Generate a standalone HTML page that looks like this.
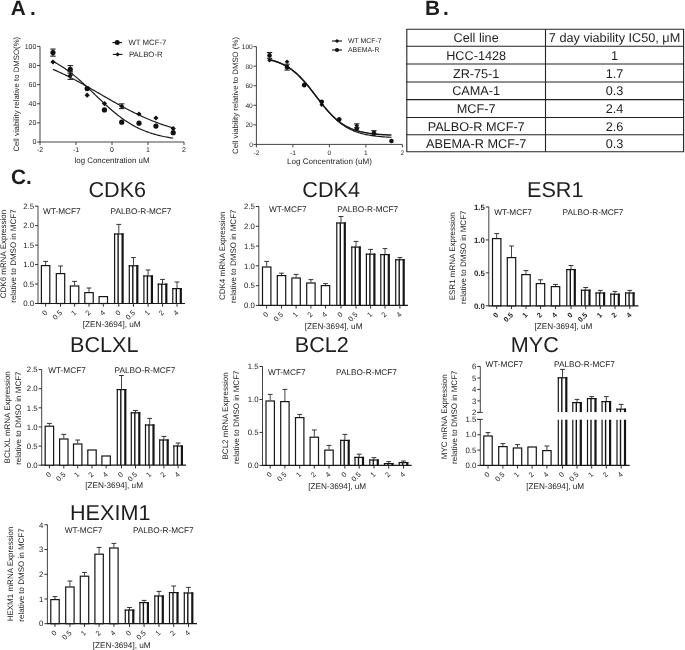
<!DOCTYPE html>
<html><head><meta charset="utf-8"><style>
html,body{margin:0;padding:0;background:#fff;width:685px;height:650px;overflow:hidden}
svg{display:block;will-change:transform}
text{font-family:"Liberation Sans",sans-serif;fill:#1e1e1e;text-rendering:geometricPrecision}
</style></head><body>
<svg width="685" height="650" viewBox="0 0 685 650">
<rect width="685" height="650" fill="#fff"/>
<text x="10.80" y="15.20" font-size="20.8" font-weight="bold">A</text>
<text x="30.00" y="15.20" font-size="20.8" font-weight="bold">.</text>
<text x="425.10" y="15.20" font-size="20.8" font-weight="bold">B</text>
<text x="443.00" y="15.20" font-size="20.8" font-weight="bold">.</text>
<text x="10.90" y="184.20" font-size="20.8" font-weight="bold">C</text>
<text x="26.10" y="184.40" font-size="20.8" font-weight="bold">.</text>
<line x1="40.00" y1="46.40" x2="40.00" y2="142.50" stroke="#444" stroke-width="1"/>
<line x1="39.50" y1="142.00" x2="184.00" y2="142.00" stroke="#444" stroke-width="1"/>
<line x1="37.00" y1="142.00" x2="40.00" y2="142.00" stroke="#444" stroke-width="1"/>
<text x="36.40" y="144.40" font-size="7.0" text-anchor="end">0</text>
<line x1="37.00" y1="122.88" x2="40.00" y2="122.88" stroke="#444" stroke-width="1"/>
<text x="36.40" y="125.28" font-size="7.0" text-anchor="end">20</text>
<line x1="37.00" y1="103.76" x2="40.00" y2="103.76" stroke="#444" stroke-width="1"/>
<text x="36.40" y="106.16" font-size="7.0" text-anchor="end">40</text>
<line x1="37.00" y1="84.64" x2="40.00" y2="84.64" stroke="#444" stroke-width="1"/>
<text x="36.40" y="87.04" font-size="7.0" text-anchor="end">60</text>
<line x1="37.00" y1="65.52" x2="40.00" y2="65.52" stroke="#444" stroke-width="1"/>
<text x="36.40" y="67.92" font-size="7.0" text-anchor="end">80</text>
<line x1="37.00" y1="46.40" x2="40.00" y2="46.40" stroke="#444" stroke-width="1"/>
<text x="36.40" y="48.80" font-size="7.0" text-anchor="end">100</text>
<line x1="40.00" y1="142.00" x2="40.00" y2="145.00" stroke="#444" stroke-width="1"/>
<text x="40.00" y="152.20" font-size="7.0" text-anchor="middle">-2</text>
<line x1="76.00" y1="142.00" x2="76.00" y2="145.00" stroke="#444" stroke-width="1"/>
<text x="76.00" y="152.20" font-size="7.0" text-anchor="middle">-1</text>
<line x1="112.00" y1="142.00" x2="112.00" y2="145.00" stroke="#444" stroke-width="1"/>
<text x="112.00" y="152.20" font-size="7.0" text-anchor="middle">0</text>
<line x1="148.00" y1="142.00" x2="148.00" y2="145.00" stroke="#444" stroke-width="1"/>
<text x="148.00" y="152.20" font-size="7.0" text-anchor="middle">1</text>
<line x1="184.00" y1="142.00" x2="184.00" y2="145.00" stroke="#444" stroke-width="1"/>
<text x="184.00" y="152.20" font-size="7.0" text-anchor="middle">2</text>
<path d="M52.96,61.36L54.16,61.98L55.36,62.63L56.57,63.29L57.77,63.98L58.97,64.69L60.17,65.42L61.38,66.17L62.58,66.95L63.78,67.74L64.98,68.56L66.19,69.40L67.39,70.26L68.59,71.14L69.79,72.05L71.00,72.97L72.20,73.92L73.40,74.88L74.60,75.86L75.81,76.86L77.01,77.88L78.21,78.92L79.41,79.97L80.62,81.04L81.82,82.12L83.02,83.22L84.22,84.33L85.42,85.44L86.63,86.57L87.83,87.71L89.03,88.86L90.23,90.01L91.44,91.17L92.64,92.33L93.84,93.49L95.04,94.65L96.25,95.82L97.45,96.98L98.65,98.13L99.85,99.29L101.06,100.43L102.26,101.57L103.46,102.71L104.66,103.83L105.87,104.94L107.07,106.04L108.27,107.12L109.47,108.19L110.68,109.25L111.88,110.29L113.08,111.31L114.28,112.32L115.48,113.30L116.69,114.27L117.89,115.22L119.09,116.15L120.29,117.06L121.50,117.94L122.70,118.81L123.90,119.65L125.10,120.48L126.31,121.28L127.51,122.06L128.71,122.81L129.91,123.55L131.12,124.26L132.32,124.96L133.52,125.63L134.72,126.28L135.93,126.91L137.13,127.52L138.33,128.10L139.53,128.67L140.74,129.22L141.94,129.75L143.14,130.26L144.34,130.75L145.54,131.23L146.75,131.68L147.95,132.12L149.15,132.55L150.35,132.95L151.56,133.34L152.76,133.72L153.96,134.08L155.16,134.43L156.37,134.76L157.57,135.08L158.77,135.38L159.97,135.68L161.18,135.96L162.38,136.23L163.58,136.49L164.78,136.74L165.99,136.97L167.19,137.20L168.39,137.42L169.59,137.62L170.80,137.82L172.00,138.01L173.20,138.20" stroke="#1a1a1a" stroke-width="1.2" fill="none"/>
<path d="M52.96,69.36L54.16,69.87L55.36,70.39L56.57,70.92L57.77,71.45L58.97,71.99L60.17,72.54L61.38,73.10L62.58,73.67L63.78,74.24L64.98,74.82L66.19,75.40L67.39,75.99L68.59,76.59L69.79,77.20L71.00,77.81L72.20,78.43L73.40,79.05L74.60,79.68L75.81,80.32L77.01,80.96L78.21,81.60L79.41,82.25L80.62,82.91L81.82,83.57L83.02,84.23L84.22,84.90L85.42,85.57L86.63,86.25L87.83,86.93L89.03,87.61L90.23,88.29L91.44,88.98L92.64,89.67L93.84,90.36L95.04,91.06L96.25,91.75L97.45,92.44L98.65,93.14L99.85,93.84L101.06,94.53L102.26,95.23L103.46,95.93L104.66,96.62L105.87,97.32L107.07,98.01L108.27,98.70L109.47,99.39L110.68,100.08L111.88,100.76L113.08,101.44L114.28,102.12L115.48,102.80L116.69,103.47L117.89,104.14L119.09,104.80L120.29,105.46L121.50,106.12L122.70,106.77L123.90,107.42L125.10,108.06L126.31,108.69L127.51,109.32L128.71,109.95L129.91,110.56L131.12,111.18L132.32,111.78L133.52,112.38L134.72,112.97L135.93,113.56L137.13,114.14L138.33,114.71L139.53,115.27L140.74,115.83L141.94,116.38L143.14,116.93L144.34,117.46L145.54,117.99L146.75,118.51L147.95,119.02L149.15,119.53L150.35,120.02L151.56,120.51L152.76,120.99L153.96,121.47L155.16,121.93L156.37,122.39L157.57,122.84L158.77,123.29L159.97,123.72L161.18,124.15L162.38,124.57L163.58,124.98L164.78,125.38L165.99,125.78L167.19,126.17L168.39,126.55L169.59,126.92L170.80,127.29L172.00,127.65L173.20,128.00" stroke="#1a1a1a" stroke-width="1.2" fill="none"/>
<line x1="52.96" y1="49.08" x2="52.96" y2="56.15" stroke="#222" stroke-width="1.1"/>
<line x1="50.26" y1="49.08" x2="55.66" y2="49.08" stroke="#222" stroke-width="1.1"/>
<line x1="50.26" y1="56.15" x2="55.66" y2="56.15" stroke="#222" stroke-width="1.1"/>
<circle cx="52.96" cy="52.61" r="2.6" fill="#111"/>
<line x1="70.24" y1="65.52" x2="70.24" y2="73.17" stroke="#222" stroke-width="1.1"/>
<line x1="67.54" y1="65.52" x2="72.94" y2="65.52" stroke="#222" stroke-width="1.1"/>
<line x1="67.54" y1="73.17" x2="72.94" y2="73.17" stroke="#222" stroke-width="1.1"/>
<circle cx="70.24" cy="69.34" r="2.6" fill="#111"/>
<circle cx="87.16" cy="88.56" r="2.6" fill="#111"/>
<circle cx="104.44" cy="109.97" r="2.6" fill="#111"/>
<circle cx="121.72" cy="122.21" r="2.6" fill="#111"/>
<circle cx="139.00" cy="123.17" r="2.6" fill="#111"/>
<circle cx="155.92" cy="126.03" r="2.6" fill="#111"/>
<circle cx="173.20" cy="132.63" r="2.6" fill="#111"/>
<path d="M52.96,59.38L55.56,61.98L52.96,64.58L50.36,61.98Z" fill="#111"/>
<line x1="70.24" y1="71.73" x2="70.24" y2="79.38" stroke="#222" stroke-width="1.1"/>
<line x1="67.54" y1="71.73" x2="72.94" y2="71.73" stroke="#222" stroke-width="1.1"/>
<line x1="67.54" y1="79.38" x2="72.94" y2="79.38" stroke="#222" stroke-width="1.1"/>
<path d="M70.24,72.96L72.84,75.56L70.24,78.16L67.64,75.56Z" fill="#111"/>
<path d="M87.16,92.56L89.76,95.16L87.16,97.76L84.56,95.16Z" fill="#111"/>
<path d="M104.44,100.97L107.04,103.57L104.44,106.17L101.84,103.57Z" fill="#111"/>
<line x1="121.72" y1="103.86" x2="121.72" y2="108.64" stroke="#222" stroke-width="1.1"/>
<line x1="119.02" y1="103.86" x2="124.42" y2="103.86" stroke="#222" stroke-width="1.1"/>
<line x1="119.02" y1="108.64" x2="124.42" y2="108.64" stroke="#222" stroke-width="1.1"/>
<path d="M121.72,103.65L124.32,106.25L121.72,108.85L119.12,106.25Z" fill="#111"/>
<path d="M139.00,111.39L141.60,113.99L139.00,116.59L136.40,113.99Z" fill="#111"/>
<path d="M155.92,115.40L158.52,118.00L155.92,120.60L153.32,118.00Z" fill="#111"/>
<path d="M173.20,126.02L175.80,128.62L173.20,131.22L170.60,128.62Z" fill="#111"/>
<text x="19.30" y="94.20" font-size="7.8" text-anchor="middle" transform="rotate(-90 19.30 94.20)">Cell viability relative to DMSO(%)</text>
<text x="112.00" y="162.50" font-size="7.9" text-anchor="middle">log Concentration uM</text>
<line x1="112.40" y1="42.60" x2="122.00" y2="42.60" stroke="#111" stroke-width="1.1"/>
<circle cx="117.2" cy="42.6" r="2.5" fill="#111"/>
<text x="128.40" y="45.40" font-size="7.8">WT MCF-7</text>
<line x1="112.80" y1="54.40" x2="122.40" y2="54.40" stroke="#111" stroke-width="1.1"/>
<path d="M117.6,52.2L119.8,54.4L117.6,56.6L115.4,54.4Z" fill="#111"/>
<text x="129.00" y="57.20" font-size="7.8">PALBO-R</text>
<line x1="256.40" y1="46.60" x2="256.40" y2="144.90" stroke="#444" stroke-width="1"/>
<line x1="255.90" y1="144.40" x2="402.40" y2="144.40" stroke="#444" stroke-width="1"/>
<line x1="253.40" y1="144.40" x2="256.40" y2="144.40" stroke="#444" stroke-width="1"/>
<text x="252.80" y="146.80" font-size="6.6" text-anchor="end">0</text>
<line x1="253.40" y1="124.84" x2="256.40" y2="124.84" stroke="#444" stroke-width="1"/>
<text x="252.80" y="127.24" font-size="6.6" text-anchor="end">20</text>
<line x1="253.40" y1="105.28" x2="256.40" y2="105.28" stroke="#444" stroke-width="1"/>
<text x="252.80" y="107.68" font-size="6.6" text-anchor="end">40</text>
<line x1="253.40" y1="85.72" x2="256.40" y2="85.72" stroke="#444" stroke-width="1"/>
<text x="252.80" y="88.12" font-size="6.6" text-anchor="end">60</text>
<line x1="253.40" y1="66.16" x2="256.40" y2="66.16" stroke="#444" stroke-width="1"/>
<text x="252.80" y="68.56" font-size="6.6" text-anchor="end">80</text>
<line x1="253.40" y1="46.60" x2="256.40" y2="46.60" stroke="#444" stroke-width="1"/>
<text x="252.80" y="49.00" font-size="6.6" text-anchor="end">100</text>
<line x1="256.40" y1="144.40" x2="256.40" y2="147.40" stroke="#444" stroke-width="1"/>
<text x="256.40" y="154.60" font-size="6.6" text-anchor="middle">-2</text>
<line x1="292.90" y1="144.40" x2="292.90" y2="147.40" stroke="#444" stroke-width="1"/>
<text x="292.90" y="154.60" font-size="6.6" text-anchor="middle">-1</text>
<line x1="329.40" y1="144.40" x2="329.40" y2="147.40" stroke="#444" stroke-width="1"/>
<text x="329.40" y="154.60" font-size="6.6" text-anchor="middle">0</text>
<line x1="365.90" y1="144.40" x2="365.90" y2="147.40" stroke="#444" stroke-width="1"/>
<text x="365.90" y="154.60" font-size="6.6" text-anchor="middle">1</text>
<line x1="402.40" y1="144.40" x2="402.40" y2="147.40" stroke="#444" stroke-width="1"/>
<text x="402.40" y="154.60" font-size="6.6" text-anchor="middle">2</text>
<path d="M269.54,59.89L270.76,60.17L271.98,60.48L273.20,60.80L274.42,61.15L275.64,61.53L276.85,61.93L278.07,62.36L279.29,62.82L280.51,63.32L281.73,63.85L282.95,64.41L284.17,65.01L285.39,65.65L286.61,66.33L287.83,67.06L289.05,67.83L290.26,68.64L291.48,69.50L292.70,70.41L293.92,71.37L295.14,72.37L296.36,73.43L297.58,74.53L298.80,75.69L300.02,76.89L301.24,78.14L302.46,79.44L303.67,80.78L304.89,82.16L306.11,83.59L307.33,85.05L308.55,86.54L309.77,88.06L310.99,89.61L312.21,91.18L313.43,92.76L314.65,94.35L315.87,95.95L317.08,97.55L318.30,99.14L319.52,100.73L320.74,102.29L321.96,103.84L323.18,105.36L324.40,106.86L325.62,108.32L326.84,109.75L328.06,111.13L329.28,112.48L330.50,113.78L331.71,115.03L332.93,116.24L334.15,117.39L335.37,118.50L336.59,119.56L337.81,120.57L339.03,121.52L340.25,122.44L341.47,123.30L342.69,124.11L343.91,124.88L345.12,125.61L346.34,126.29L347.56,126.94L348.78,127.54L350.00,128.11L351.22,128.64L352.44,129.13L353.66,129.60L354.88,130.03L356.10,130.43L357.32,130.81L358.53,131.16L359.75,131.49L360.97,131.79L362.19,132.07L363.41,132.33L364.63,132.58L365.85,132.80L367.07,133.01L368.29,133.21L369.51,133.39L370.73,133.56L371.94,133.71L373.16,133.85L374.38,133.99L375.60,134.11L376.82,134.22L378.04,134.33L379.26,134.42L380.48,134.51L381.70,134.60L382.92,134.67L384.14,134.74L385.35,134.81L386.57,134.87L387.79,134.93L389.01,134.98L390.23,135.03L391.45,135.07" stroke="#1a1a1a" stroke-width="1.5" fill="none"/>
<path d="M269.54,59.48L270.76,59.79L271.98,60.12L273.20,60.47L274.42,60.85L275.64,61.25L276.85,61.69L278.07,62.15L279.29,62.64L280.51,63.16L281.73,63.72L282.95,64.32L284.17,64.95L285.39,65.61L286.61,66.32L287.83,67.07L289.05,67.86L290.26,68.70L291.48,69.58L292.70,70.51L293.92,71.48L295.14,72.50L296.36,73.57L297.58,74.68L298.80,75.84L300.02,77.04L301.24,78.30L302.46,79.59L303.67,80.93L304.89,82.30L306.11,83.72L307.33,85.16L308.55,86.64L309.77,88.15L310.99,89.68L312.21,91.24L313.43,92.80L314.65,94.38L315.87,95.97L317.08,97.56L318.30,99.15L319.52,100.72L320.74,102.29L321.96,103.84L323.18,105.37L324.40,106.88L325.62,108.36L326.84,109.81L328.06,111.22L329.28,112.59L330.50,113.93L331.71,115.22L332.93,116.47L334.15,117.67L335.37,118.83L336.59,119.94L337.81,121.00L339.03,122.02L340.25,122.99L341.47,123.91L342.69,124.79L343.91,125.62L345.12,126.41L346.34,127.16L347.56,127.87L348.78,128.53L350.00,129.16L351.22,129.75L352.44,130.31L353.66,130.83L354.88,131.32L356.10,131.78L357.32,132.21L358.53,132.62L359.75,132.99L360.97,133.35L362.19,133.68L363.41,133.98L364.63,134.27L365.85,134.54L367.07,134.79L368.29,135.02L369.51,135.24L370.73,135.44L371.94,135.62L373.16,135.80L374.38,135.96L375.60,136.11L376.82,136.25L378.04,136.38L379.26,136.50L380.48,136.61L381.70,136.72L382.92,136.81L384.14,136.90L385.35,136.99L386.57,137.06L387.79,137.14L389.01,137.20L390.23,137.26L391.45,137.32" stroke="#1a1a1a" stroke-width="1.2" fill="none"/>
<path d="M269.54,57.99L271.84,60.29L269.54,62.59L267.24,60.29Z" fill="#111"/>
<line x1="269.54" y1="52.47" x2="269.54" y2="58.34" stroke="#222" stroke-width="1.1"/>
<line x1="266.84" y1="52.47" x2="272.24" y2="52.47" stroke="#222" stroke-width="1.1"/>
<line x1="266.84" y1="58.34" x2="272.24" y2="58.34" stroke="#222" stroke-width="1.1"/>
<circle cx="269.54" cy="55.40" r="2.3" fill="#111"/>
<path d="M287.06,59.46L289.36,61.76L287.06,64.06L284.76,61.76Z" fill="#111"/>
<line x1="287.06" y1="64.20" x2="287.06" y2="70.07" stroke="#222" stroke-width="1.1"/>
<line x1="284.36" y1="64.20" x2="289.76" y2="64.20" stroke="#222" stroke-width="1.1"/>
<line x1="284.36" y1="70.07" x2="289.76" y2="70.07" stroke="#222" stroke-width="1.1"/>
<circle cx="287.06" cy="67.14" r="2.3" fill="#111"/>
<circle cx="304.21" cy="85.23" r="2.3" fill="#111"/>
<path d="M304.21,81.95L306.51,84.25L304.21,86.55L301.91,84.25Z" fill="#111"/>
<circle cx="321.74" cy="101.86" r="2.3" fill="#111"/>
<path d="M321.74,102.49L324.04,104.79L321.74,107.09L319.44,104.79Z" fill="#111"/>
<circle cx="339.25" cy="119.46" r="2.3" fill="#111"/>
<path d="M339.25,116.67L341.56,118.97L339.25,121.27L336.95,118.97Z" fill="#111"/>
<circle cx="356.77" cy="128.75" r="2.3" fill="#111"/>
<line x1="356.77" y1="123.86" x2="356.77" y2="127.77" stroke="#222" stroke-width="1.1"/>
<line x1="354.07" y1="123.86" x2="359.47" y2="123.86" stroke="#222" stroke-width="1.1"/>
<line x1="354.07" y1="127.77" x2="359.47" y2="127.77" stroke="#222" stroke-width="1.1"/>
<path d="M356.77,123.52L359.07,125.82L356.77,128.12L354.47,125.82Z" fill="#111"/>
<circle cx="373.93" cy="133.64" r="2.3" fill="#111"/>
<line x1="373.93" y1="130.71" x2="373.93" y2="133.64" stroke="#222" stroke-width="1.1"/>
<line x1="371.23" y1="130.71" x2="376.63" y2="130.71" stroke="#222" stroke-width="1.1"/>
<line x1="371.23" y1="133.64" x2="376.63" y2="133.64" stroke="#222" stroke-width="1.1"/>
<path d="M373.93,129.88L376.23,132.18L373.93,134.48L371.63,132.18Z" fill="#111"/>
<circle cx="391.45" cy="140.98" r="2.3" fill="#111"/>
<text x="237.50" y="95.50" font-size="7.8" text-anchor="middle" transform="rotate(-90 237.50 95.50)">Cell viability relative to DMSO (%)</text>
<text x="329.40" y="163.90" font-size="8.1" text-anchor="middle">Log Concentration (uM)</text>
<line x1="332.00" y1="41.00" x2="342.00" y2="41.00" stroke="#111" stroke-width="1.1"/>
<path d="M337,38.9L339.1,41L337,43.1L334.9,41Z" fill="#111"/>
<text x="348.00" y="43.40" font-size="6.9">WT MCF-7</text>
<line x1="332.00" y1="50.00" x2="342.00" y2="50.00" stroke="#111" stroke-width="1.1"/>
<circle cx="337" cy="50" r="2.1" fill="#111"/>
<text x="348.00" y="52.40" font-size="6.9">ABEMA-R</text>
<line x1="406.30" y1="29.20" x2="684.10" y2="29.20" stroke="#222" stroke-width="1.1"/>
<line x1="406.30" y1="46.20" x2="684.10" y2="46.20" stroke="#222" stroke-width="1.1"/>
<line x1="406.30" y1="64.00" x2="684.10" y2="64.00" stroke="#222" stroke-width="1.1"/>
<line x1="406.30" y1="82.00" x2="684.10" y2="82.00" stroke="#222" stroke-width="1.1"/>
<line x1="406.30" y1="99.60" x2="684.10" y2="99.60" stroke="#222" stroke-width="1.1"/>
<line x1="406.30" y1="117.50" x2="684.10" y2="117.50" stroke="#222" stroke-width="1.1"/>
<line x1="406.30" y1="134.80" x2="684.10" y2="134.80" stroke="#222" stroke-width="1.1"/>
<line x1="406.30" y1="151.80" x2="684.10" y2="151.80" stroke="#222" stroke-width="1.1"/>
<line x1="406.80" y1="29.20" x2="406.80" y2="151.80" stroke="#222" stroke-width="1.1"/>
<line x1="545.50" y1="29.20" x2="545.50" y2="151.80" stroke="#222" stroke-width="1.1"/>
<line x1="683.60" y1="29.20" x2="683.60" y2="151.80" stroke="#222" stroke-width="1.1"/>
<text x="476.15" y="42.20" font-size="12.7" text-anchor="middle">Cell line</text>
<text x="614.55" y="42.20" font-size="12.7" text-anchor="middle">7 day viability IC50, μM</text>
<text x="476.15" y="59.60" font-size="12.7" text-anchor="middle">HCC-1428</text>
<text x="614.55" y="59.60" font-size="12.7" text-anchor="middle">1</text>
<text x="476.15" y="77.50" font-size="12.7" text-anchor="middle">ZR-75-1</text>
<text x="614.55" y="77.50" font-size="12.7" text-anchor="middle">1.7</text>
<text x="476.15" y="95.30" font-size="12.7" text-anchor="middle">CAMA-1</text>
<text x="614.55" y="95.30" font-size="12.7" text-anchor="middle">0.3</text>
<text x="476.15" y="113.05" font-size="12.7" text-anchor="middle">MCF-7</text>
<text x="614.55" y="113.05" font-size="12.7" text-anchor="middle">2.4</text>
<text x="476.15" y="130.65" font-size="12.7" text-anchor="middle">PALBO-R MCF-7</text>
<text x="614.55" y="130.65" font-size="12.7" text-anchor="middle">2.6</text>
<text x="476.15" y="147.80" font-size="12.7" text-anchor="middle">ABEMA-R MCF-7</text>
<text x="614.55" y="147.80" font-size="12.7" text-anchor="middle">0.3</text>
<text x="88.50" y="196.80" font-size="21.6">CDK6</text>
<line x1="38.00" y1="205.90" x2="38.00" y2="303.50" stroke="#444" stroke-width="1"/>
<line x1="37.50" y1="303.50" x2="185.00" y2="303.50" stroke="#1a1a1a" stroke-width="1.2"/>
<line x1="35.00" y1="303.50" x2="38.00" y2="303.50" stroke="#333" stroke-width="1"/>
<text x="34.00" y="306.20" font-size="7.8" text-anchor="end">0.0</text>
<line x1="35.00" y1="284.04" x2="38.00" y2="284.04" stroke="#333" stroke-width="1"/>
<text x="34.00" y="286.74" font-size="7.8" text-anchor="end">0.5</text>
<line x1="35.00" y1="264.58" x2="38.00" y2="264.58" stroke="#333" stroke-width="1"/>
<text x="34.00" y="267.28" font-size="7.8" text-anchor="end">1.0</text>
<line x1="35.00" y1="245.12" x2="38.00" y2="245.12" stroke="#333" stroke-width="1"/>
<text x="34.00" y="247.82" font-size="7.8" text-anchor="end">1.5</text>
<line x1="35.00" y1="225.66" x2="38.00" y2="225.66" stroke="#333" stroke-width="1"/>
<text x="34.00" y="228.36" font-size="7.8" text-anchor="end">2.0</text>
<line x1="35.00" y1="206.20" x2="38.00" y2="206.20" stroke="#333" stroke-width="1"/>
<text x="34.00" y="208.90" font-size="7.8" text-anchor="end">2.5</text>
<line x1="45.60" y1="303.50" x2="45.60" y2="306.70" stroke="#333" stroke-width="1"/>
<text x="47.80" y="313.10" font-size="7.2" text-anchor="end" transform="rotate(-45 47.80 313.10)">0</text>
<line x1="45.60" y1="261.40" x2="45.60" y2="265.00" stroke="#444" stroke-width="1"/>
<line x1="43.20" y1="261.40" x2="48.00" y2="261.40" stroke="#333" stroke-width="1"/>
<rect x="41.40" y="265.60" width="8.40" height="37.90" fill="#fff" stroke="#151515" stroke-width="1.2"/>
<line x1="60.50" y1="303.50" x2="60.50" y2="306.70" stroke="#333" stroke-width="1"/>
<text x="62.70" y="313.10" font-size="7.2" text-anchor="end" transform="rotate(-45 62.70 313.10)">0.5</text>
<line x1="60.50" y1="266.00" x2="60.50" y2="273.00" stroke="#444" stroke-width="1"/>
<line x1="58.10" y1="266.00" x2="62.90" y2="266.00" stroke="#333" stroke-width="1"/>
<rect x="56.30" y="273.60" width="8.40" height="29.90" fill="#fff" stroke="#151515" stroke-width="1.2"/>
<line x1="74.60" y1="303.50" x2="74.60" y2="306.70" stroke="#333" stroke-width="1"/>
<text x="76.80" y="313.10" font-size="7.2" text-anchor="end" transform="rotate(-45 76.80 313.10)">1</text>
<line x1="74.60" y1="281.40" x2="74.60" y2="285.40" stroke="#444" stroke-width="1"/>
<line x1="72.20" y1="281.40" x2="77.00" y2="281.40" stroke="#333" stroke-width="1"/>
<rect x="70.40" y="286.00" width="8.40" height="17.50" fill="#fff" stroke="#151515" stroke-width="1.2"/>
<line x1="89.00" y1="303.50" x2="89.00" y2="306.70" stroke="#333" stroke-width="1"/>
<text x="91.20" y="313.10" font-size="7.2" text-anchor="end" transform="rotate(-45 91.20 313.10)">2</text>
<line x1="89.00" y1="288.00" x2="89.00" y2="292.00" stroke="#444" stroke-width="1"/>
<line x1="86.60" y1="288.00" x2="91.40" y2="288.00" stroke="#333" stroke-width="1"/>
<rect x="84.80" y="292.60" width="8.40" height="10.90" fill="#fff" stroke="#151515" stroke-width="1.2"/>
<line x1="103.30" y1="303.50" x2="103.30" y2="306.70" stroke="#333" stroke-width="1"/>
<text x="105.50" y="313.10" font-size="7.2" text-anchor="end" transform="rotate(-45 105.50 313.10)">4</text>
<rect x="99.10" y="296.60" width="8.40" height="6.90" fill="#fff" stroke="#151515" stroke-width="1.2"/>
<line x1="118.80" y1="303.50" x2="118.80" y2="306.70" stroke="#333" stroke-width="1"/>
<text x="121.00" y="313.10" font-size="7.2" text-anchor="end" transform="rotate(-45 121.00 313.10)">0</text>
<line x1="118.80" y1="224.40" x2="118.80" y2="233.40" stroke="#444" stroke-width="1"/>
<line x1="116.40" y1="224.40" x2="121.20" y2="224.40" stroke="#333" stroke-width="1"/>
<line x1="114.60" y1="233.40" x2="114.60" y2="303.50" stroke="#151515" stroke-width="1.2"/>
<line x1="118.10" y1="233.40" x2="118.10" y2="303.50" stroke="#151515" stroke-width="1.4"/>
<line x1="122.60" y1="233.40" x2="122.60" y2="303.50" stroke="#151515" stroke-width="2.2"/>
<line x1="114.00" y1="234.00" x2="123.60" y2="234.00" stroke="#151515" stroke-width="1.2"/>
<line x1="133.50" y1="303.50" x2="133.50" y2="306.70" stroke="#333" stroke-width="1"/>
<text x="135.70" y="313.10" font-size="7.2" text-anchor="end" transform="rotate(-45 135.70 313.10)">0.5</text>
<line x1="133.50" y1="257.60" x2="133.50" y2="265.20" stroke="#444" stroke-width="1"/>
<line x1="131.10" y1="257.60" x2="135.90" y2="257.60" stroke="#333" stroke-width="1"/>
<line x1="129.30" y1="265.20" x2="129.30" y2="303.50" stroke="#151515" stroke-width="1.2"/>
<line x1="132.80" y1="265.20" x2="132.80" y2="303.50" stroke="#151515" stroke-width="1.4"/>
<line x1="137.30" y1="265.20" x2="137.30" y2="303.50" stroke="#151515" stroke-width="2.2"/>
<line x1="128.70" y1="265.80" x2="138.30" y2="265.80" stroke="#151515" stroke-width="1.2"/>
<line x1="148.10" y1="303.50" x2="148.10" y2="306.70" stroke="#333" stroke-width="1"/>
<text x="150.30" y="313.10" font-size="7.2" text-anchor="end" transform="rotate(-45 150.30 313.10)">1</text>
<line x1="148.10" y1="270.00" x2="148.10" y2="275.40" stroke="#444" stroke-width="1"/>
<line x1="145.70" y1="270.00" x2="150.50" y2="270.00" stroke="#333" stroke-width="1"/>
<line x1="143.90" y1="275.40" x2="143.90" y2="303.50" stroke="#151515" stroke-width="1.2"/>
<line x1="147.40" y1="275.40" x2="147.40" y2="303.50" stroke="#151515" stroke-width="1.4"/>
<line x1="151.90" y1="275.40" x2="151.90" y2="303.50" stroke="#151515" stroke-width="2.2"/>
<line x1="143.30" y1="276.00" x2="152.90" y2="276.00" stroke="#151515" stroke-width="1.2"/>
<line x1="162.50" y1="303.50" x2="162.50" y2="306.70" stroke="#333" stroke-width="1"/>
<text x="164.70" y="313.10" font-size="7.2" text-anchor="end" transform="rotate(-45 164.70 313.10)">2</text>
<line x1="162.50" y1="279.40" x2="162.50" y2="283.60" stroke="#444" stroke-width="1"/>
<line x1="160.10" y1="279.40" x2="164.90" y2="279.40" stroke="#333" stroke-width="1"/>
<line x1="158.30" y1="283.60" x2="158.30" y2="303.50" stroke="#151515" stroke-width="1.2"/>
<line x1="161.80" y1="283.60" x2="161.80" y2="303.50" stroke="#151515" stroke-width="1.4"/>
<line x1="166.30" y1="283.60" x2="166.30" y2="303.50" stroke="#151515" stroke-width="2.2"/>
<line x1="157.70" y1="284.20" x2="167.30" y2="284.20" stroke="#151515" stroke-width="1.2"/>
<line x1="177.00" y1="303.50" x2="177.00" y2="306.70" stroke="#333" stroke-width="1"/>
<text x="179.20" y="313.10" font-size="7.2" text-anchor="end" transform="rotate(-45 179.20 313.10)">4</text>
<line x1="177.00" y1="282.00" x2="177.00" y2="288.00" stroke="#444" stroke-width="1"/>
<line x1="174.60" y1="282.00" x2="179.40" y2="282.00" stroke="#333" stroke-width="1"/>
<line x1="172.80" y1="288.00" x2="172.80" y2="303.50" stroke="#151515" stroke-width="1.2"/>
<line x1="176.30" y1="288.00" x2="176.30" y2="303.50" stroke="#151515" stroke-width="1.4"/>
<line x1="180.80" y1="288.00" x2="180.80" y2="303.50" stroke="#151515" stroke-width="2.2"/>
<line x1="172.20" y1="288.60" x2="181.80" y2="288.60" stroke="#151515" stroke-width="1.2"/>
<text x="43.10" y="214.10" font-size="8.25">WT-MCF7</text>
<text x="110.60" y="214.25" font-size="8.25">PALBO-R-MCF7</text>
<text x="5.60" y="254.00" font-size="8" text-anchor="middle" transform="rotate(-90 5.60 254.00)">CDK6 mRNA Expression</text>
<text x="16.40" y="256.10" font-size="8" text-anchor="middle" transform="rotate(-90 16.40 256.10)">relative to DMSO in MCF7</text>
<text x="111.70" y="327.30" font-size="8.2" text-anchor="middle">[ZEN-3694], uM</text>
<text x="302.30" y="197.30" font-size="21.6">CDK4</text>
<line x1="258.80" y1="206.20" x2="258.80" y2="305.40" stroke="#444" stroke-width="1"/>
<line x1="258.30" y1="305.40" x2="408.00" y2="305.40" stroke="#1a1a1a" stroke-width="1.2"/>
<line x1="255.80" y1="305.40" x2="258.80" y2="305.40" stroke="#333" stroke-width="1"/>
<text x="254.80" y="308.10" font-size="7.8" text-anchor="end">0.0</text>
<line x1="255.80" y1="285.62" x2="258.80" y2="285.62" stroke="#333" stroke-width="1"/>
<text x="254.80" y="288.32" font-size="7.8" text-anchor="end">0.5</text>
<line x1="255.80" y1="265.84" x2="258.80" y2="265.84" stroke="#333" stroke-width="1"/>
<text x="254.80" y="268.54" font-size="7.8" text-anchor="end">1.0</text>
<line x1="255.80" y1="246.06" x2="258.80" y2="246.06" stroke="#333" stroke-width="1"/>
<text x="254.80" y="248.76" font-size="7.8" text-anchor="end">1.5</text>
<line x1="255.80" y1="226.28" x2="258.80" y2="226.28" stroke="#333" stroke-width="1"/>
<text x="254.80" y="228.98" font-size="7.8" text-anchor="end">2.0</text>
<line x1="255.80" y1="206.50" x2="258.80" y2="206.50" stroke="#333" stroke-width="1"/>
<text x="254.80" y="209.20" font-size="7.8" text-anchor="end">2.5</text>
<line x1="266.70" y1="305.40" x2="266.70" y2="308.60" stroke="#333" stroke-width="1"/>
<text x="268.90" y="315.00" font-size="7.2" text-anchor="end" transform="rotate(-45 268.90 315.00)">0</text>
<line x1="266.70" y1="261.40" x2="266.70" y2="266.40" stroke="#444" stroke-width="1"/>
<line x1="264.30" y1="261.40" x2="269.10" y2="261.40" stroke="#333" stroke-width="1"/>
<rect x="262.50" y="267.00" width="8.40" height="38.40" fill="#fff" stroke="#151515" stroke-width="1.2"/>
<line x1="281.50" y1="305.40" x2="281.50" y2="308.60" stroke="#333" stroke-width="1"/>
<text x="283.70" y="315.00" font-size="7.2" text-anchor="end" transform="rotate(-45 283.70 315.00)">0.5</text>
<line x1="281.50" y1="273.20" x2="281.50" y2="275.00" stroke="#444" stroke-width="1"/>
<line x1="279.10" y1="273.20" x2="283.90" y2="273.20" stroke="#333" stroke-width="1"/>
<rect x="277.30" y="275.60" width="8.40" height="29.80" fill="#fff" stroke="#151515" stroke-width="1.2"/>
<line x1="296.10" y1="305.40" x2="296.10" y2="308.60" stroke="#333" stroke-width="1"/>
<text x="298.30" y="315.00" font-size="7.2" text-anchor="end" transform="rotate(-45 298.30 315.00)">1</text>
<line x1="296.10" y1="274.40" x2="296.10" y2="277.40" stroke="#444" stroke-width="1"/>
<line x1="293.70" y1="274.40" x2="298.50" y2="274.40" stroke="#333" stroke-width="1"/>
<rect x="291.90" y="278.00" width="8.40" height="27.40" fill="#fff" stroke="#151515" stroke-width="1.2"/>
<line x1="310.90" y1="305.40" x2="310.90" y2="308.60" stroke="#333" stroke-width="1"/>
<text x="313.10" y="315.00" font-size="7.2" text-anchor="end" transform="rotate(-45 313.10 315.00)">2</text>
<line x1="310.90" y1="279.60" x2="310.90" y2="282.40" stroke="#444" stroke-width="1"/>
<line x1="308.50" y1="279.60" x2="313.30" y2="279.60" stroke="#333" stroke-width="1"/>
<rect x="306.70" y="283.00" width="8.40" height="22.40" fill="#fff" stroke="#151515" stroke-width="1.2"/>
<line x1="325.50" y1="305.40" x2="325.50" y2="308.60" stroke="#333" stroke-width="1"/>
<text x="327.70" y="315.00" font-size="7.2" text-anchor="end" transform="rotate(-45 327.70 315.00)">4</text>
<line x1="325.50" y1="283.60" x2="325.50" y2="285.00" stroke="#444" stroke-width="1"/>
<line x1="323.10" y1="283.60" x2="327.90" y2="283.60" stroke="#333" stroke-width="1"/>
<rect x="321.30" y="285.60" width="8.40" height="19.80" fill="#fff" stroke="#151515" stroke-width="1.2"/>
<line x1="341.00" y1="305.40" x2="341.00" y2="308.60" stroke="#333" stroke-width="1"/>
<text x="343.20" y="315.00" font-size="7.2" text-anchor="end" transform="rotate(-45 343.20 315.00)">0</text>
<line x1="341.00" y1="216.50" x2="341.00" y2="222.40" stroke="#444" stroke-width="1"/>
<line x1="338.60" y1="216.50" x2="343.40" y2="216.50" stroke="#333" stroke-width="1"/>
<line x1="336.80" y1="222.40" x2="336.80" y2="305.40" stroke="#151515" stroke-width="1.2"/>
<line x1="340.30" y1="222.40" x2="340.30" y2="305.40" stroke="#151515" stroke-width="1.4"/>
<line x1="344.80" y1="222.40" x2="344.80" y2="305.40" stroke="#151515" stroke-width="2.2"/>
<line x1="336.20" y1="223.00" x2="345.80" y2="223.00" stroke="#151515" stroke-width="1.2"/>
<line x1="356.00" y1="305.40" x2="356.00" y2="308.60" stroke="#333" stroke-width="1"/>
<text x="358.20" y="315.00" font-size="7.2" text-anchor="end" transform="rotate(-45 358.20 315.00)">0.5</text>
<line x1="356.00" y1="241.40" x2="356.00" y2="246.50" stroke="#444" stroke-width="1"/>
<line x1="353.60" y1="241.40" x2="358.40" y2="241.40" stroke="#333" stroke-width="1"/>
<line x1="351.80" y1="246.50" x2="351.80" y2="305.40" stroke="#151515" stroke-width="1.2"/>
<line x1="355.30" y1="246.50" x2="355.30" y2="305.40" stroke="#151515" stroke-width="1.4"/>
<line x1="359.80" y1="246.50" x2="359.80" y2="305.40" stroke="#151515" stroke-width="2.2"/>
<line x1="351.20" y1="247.10" x2="360.80" y2="247.10" stroke="#151515" stroke-width="1.2"/>
<line x1="370.60" y1="305.40" x2="370.60" y2="308.60" stroke="#333" stroke-width="1"/>
<text x="372.80" y="315.00" font-size="7.2" text-anchor="end" transform="rotate(-45 372.80 315.00)">1</text>
<line x1="370.60" y1="249.40" x2="370.60" y2="253.60" stroke="#444" stroke-width="1"/>
<line x1="368.20" y1="249.40" x2="373.00" y2="249.40" stroke="#333" stroke-width="1"/>
<line x1="366.40" y1="253.60" x2="366.40" y2="305.40" stroke="#151515" stroke-width="1.2"/>
<line x1="369.90" y1="253.60" x2="369.90" y2="305.40" stroke="#151515" stroke-width="1.4"/>
<line x1="374.40" y1="253.60" x2="374.40" y2="305.40" stroke="#151515" stroke-width="2.2"/>
<line x1="365.80" y1="254.20" x2="375.40" y2="254.20" stroke="#151515" stroke-width="1.2"/>
<line x1="385.00" y1="305.40" x2="385.00" y2="308.60" stroke="#333" stroke-width="1"/>
<text x="387.20" y="315.00" font-size="7.2" text-anchor="end" transform="rotate(-45 387.20 315.00)">2</text>
<line x1="385.00" y1="248.60" x2="385.00" y2="254.00" stroke="#444" stroke-width="1"/>
<line x1="382.60" y1="248.60" x2="387.40" y2="248.60" stroke="#333" stroke-width="1"/>
<line x1="380.80" y1="254.00" x2="380.80" y2="305.40" stroke="#151515" stroke-width="1.2"/>
<line x1="384.30" y1="254.00" x2="384.30" y2="305.40" stroke="#151515" stroke-width="1.4"/>
<line x1="388.80" y1="254.00" x2="388.80" y2="305.40" stroke="#151515" stroke-width="2.2"/>
<line x1="380.20" y1="254.60" x2="389.80" y2="254.60" stroke="#151515" stroke-width="1.2"/>
<line x1="399.90" y1="305.40" x2="399.90" y2="308.60" stroke="#333" stroke-width="1"/>
<text x="402.10" y="315.00" font-size="7.2" text-anchor="end" transform="rotate(-45 402.10 315.00)">4</text>
<line x1="399.90" y1="257.60" x2="399.90" y2="259.20" stroke="#444" stroke-width="1"/>
<line x1="397.50" y1="257.60" x2="402.30" y2="257.60" stroke="#333" stroke-width="1"/>
<line x1="395.70" y1="259.20" x2="395.70" y2="305.40" stroke="#151515" stroke-width="1.2"/>
<line x1="399.20" y1="259.20" x2="399.20" y2="305.40" stroke="#151515" stroke-width="1.4"/>
<line x1="403.70" y1="259.20" x2="403.70" y2="305.40" stroke="#151515" stroke-width="2.2"/>
<line x1="395.10" y1="259.80" x2="404.70" y2="259.80" stroke="#151515" stroke-width="1.2"/>
<text x="269.00" y="212.15" font-size="8.25">WT-MCF7</text>
<text x="337.30" y="212.25" font-size="8.25">PALBO-R-MCF7</text>
<text x="224.85" y="255.80" font-size="8" text-anchor="middle" transform="rotate(-90 224.85 255.80)">CDK4 mRNA Expression</text>
<text x="236.00" y="256.20" font-size="8" text-anchor="middle" transform="rotate(-90 236.00 256.20)">relative to DMSO in MCF7</text>
<text x="333.60" y="329.30" font-size="8.2" text-anchor="middle">[ZEN-3694], uM</text>
<text x="527.00" y="197.10" font-size="21.6">ESR1</text>
<line x1="488.80" y1="206.70" x2="488.80" y2="305.80" stroke="#444" stroke-width="1"/>
<line x1="488.30" y1="305.80" x2="638.40" y2="305.80" stroke="#1a1a1a" stroke-width="1.2"/>
<line x1="485.80" y1="305.80" x2="488.80" y2="305.80" stroke="#333" stroke-width="1"/>
<text x="484.80" y="308.50" font-size="7.8" text-anchor="end" font-weight="bold">0.0</text>
<line x1="485.80" y1="272.87" x2="488.80" y2="272.87" stroke="#333" stroke-width="1"/>
<text x="484.80" y="275.57" font-size="7.8" text-anchor="end" font-weight="bold">0.5</text>
<line x1="485.80" y1="239.93" x2="488.80" y2="239.93" stroke="#333" stroke-width="1"/>
<text x="484.80" y="242.63" font-size="7.8" text-anchor="end" font-weight="bold">1.0</text>
<line x1="485.80" y1="207.00" x2="488.80" y2="207.00" stroke="#333" stroke-width="1"/>
<text x="484.80" y="209.70" font-size="7.8" text-anchor="end" font-weight="bold">1.5</text>
<line x1="496.70" y1="305.80" x2="496.70" y2="309.00" stroke="#333" stroke-width="1"/>
<text x="498.90" y="315.40" font-size="7.2" text-anchor="end" font-weight="bold" transform="rotate(-45 498.90 315.40)">0</text>
<line x1="496.70" y1="233.60" x2="496.70" y2="238.00" stroke="#444" stroke-width="1"/>
<line x1="494.30" y1="233.60" x2="499.10" y2="233.60" stroke="#333" stroke-width="1"/>
<rect x="492.50" y="238.60" width="8.40" height="67.20" fill="#fff" stroke="#151515" stroke-width="1.2"/>
<line x1="511.50" y1="305.80" x2="511.50" y2="309.00" stroke="#333" stroke-width="1"/>
<text x="513.70" y="315.40" font-size="7.2" text-anchor="end" font-weight="bold" transform="rotate(-45 513.70 315.40)">0.5</text>
<line x1="511.50" y1="246.00" x2="511.50" y2="257.00" stroke="#444" stroke-width="1"/>
<line x1="509.10" y1="246.00" x2="513.90" y2="246.00" stroke="#333" stroke-width="1"/>
<rect x="507.30" y="257.60" width="8.40" height="48.20" fill="#fff" stroke="#151515" stroke-width="1.2"/>
<line x1="526.00" y1="305.80" x2="526.00" y2="309.00" stroke="#333" stroke-width="1"/>
<text x="528.20" y="315.40" font-size="7.2" text-anchor="end" font-weight="bold" transform="rotate(-45 528.20 315.40)">1</text>
<line x1="526.00" y1="270.60" x2="526.00" y2="274.00" stroke="#444" stroke-width="1"/>
<line x1="523.60" y1="270.60" x2="528.40" y2="270.60" stroke="#333" stroke-width="1"/>
<rect x="521.80" y="274.60" width="8.40" height="31.20" fill="#fff" stroke="#151515" stroke-width="1.2"/>
<line x1="540.50" y1="305.80" x2="540.50" y2="309.00" stroke="#333" stroke-width="1"/>
<text x="542.70" y="315.40" font-size="7.2" text-anchor="end" font-weight="bold" transform="rotate(-45 542.70 315.40)">2</text>
<line x1="540.50" y1="279.80" x2="540.50" y2="283.00" stroke="#444" stroke-width="1"/>
<line x1="538.10" y1="279.80" x2="542.90" y2="279.80" stroke="#333" stroke-width="1"/>
<rect x="536.30" y="283.60" width="8.40" height="22.20" fill="#fff" stroke="#151515" stroke-width="1.2"/>
<line x1="555.50" y1="305.80" x2="555.50" y2="309.00" stroke="#333" stroke-width="1"/>
<text x="557.70" y="315.40" font-size="7.2" text-anchor="end" font-weight="bold" transform="rotate(-45 557.70 315.40)">4</text>
<line x1="555.50" y1="284.40" x2="555.50" y2="286.00" stroke="#444" stroke-width="1"/>
<line x1="553.10" y1="284.40" x2="557.90" y2="284.40" stroke="#333" stroke-width="1"/>
<rect x="551.30" y="286.60" width="8.40" height="19.20" fill="#fff" stroke="#151515" stroke-width="1.2"/>
<line x1="571.00" y1="305.80" x2="571.00" y2="309.00" stroke="#333" stroke-width="1"/>
<text x="573.20" y="315.40" font-size="7.2" text-anchor="end" font-weight="bold" transform="rotate(-45 573.20 315.40)">0</text>
<line x1="571.00" y1="265.50" x2="571.00" y2="269.00" stroke="#444" stroke-width="1"/>
<line x1="568.60" y1="265.50" x2="573.40" y2="265.50" stroke="#333" stroke-width="1"/>
<line x1="566.80" y1="269.00" x2="566.80" y2="305.80" stroke="#151515" stroke-width="1.2"/>
<line x1="570.30" y1="269.00" x2="570.30" y2="305.80" stroke="#151515" stroke-width="1.4"/>
<line x1="574.80" y1="269.00" x2="574.80" y2="305.80" stroke="#151515" stroke-width="2.2"/>
<line x1="566.20" y1="269.60" x2="575.80" y2="269.60" stroke="#151515" stroke-width="1.2"/>
<line x1="585.70" y1="305.80" x2="585.70" y2="309.00" stroke="#333" stroke-width="1"/>
<text x="587.90" y="315.40" font-size="7.2" text-anchor="end" font-weight="bold" transform="rotate(-45 587.90 315.40)">0.5</text>
<line x1="585.70" y1="287.50" x2="585.70" y2="289.60" stroke="#444" stroke-width="1"/>
<line x1="583.30" y1="287.50" x2="588.10" y2="287.50" stroke="#333" stroke-width="1"/>
<line x1="581.50" y1="289.60" x2="581.50" y2="305.80" stroke="#151515" stroke-width="1.2"/>
<line x1="585.00" y1="289.60" x2="585.00" y2="305.80" stroke="#151515" stroke-width="1.4"/>
<line x1="589.50" y1="289.60" x2="589.50" y2="305.80" stroke="#151515" stroke-width="2.2"/>
<line x1="580.90" y1="290.20" x2="590.50" y2="290.20" stroke="#151515" stroke-width="1.2"/>
<line x1="600.30" y1="305.80" x2="600.30" y2="309.00" stroke="#333" stroke-width="1"/>
<text x="602.50" y="315.40" font-size="7.2" text-anchor="end" font-weight="bold" transform="rotate(-45 602.50 315.40)">1</text>
<line x1="600.30" y1="290.40" x2="600.30" y2="292.40" stroke="#444" stroke-width="1"/>
<line x1="597.90" y1="290.40" x2="602.70" y2="290.40" stroke="#333" stroke-width="1"/>
<line x1="596.10" y1="292.40" x2="596.10" y2="305.80" stroke="#151515" stroke-width="1.2"/>
<line x1="599.60" y1="292.40" x2="599.60" y2="305.80" stroke="#151515" stroke-width="1.4"/>
<line x1="604.10" y1="292.40" x2="604.10" y2="305.80" stroke="#151515" stroke-width="2.2"/>
<line x1="595.50" y1="293.00" x2="605.10" y2="293.00" stroke="#151515" stroke-width="1.2"/>
<line x1="615.00" y1="305.80" x2="615.00" y2="309.00" stroke="#333" stroke-width="1"/>
<text x="617.20" y="315.40" font-size="7.2" text-anchor="end" font-weight="bold" transform="rotate(-45 617.20 315.40)">2</text>
<line x1="615.00" y1="291.40" x2="615.00" y2="293.60" stroke="#444" stroke-width="1"/>
<line x1="612.60" y1="291.40" x2="617.40" y2="291.40" stroke="#333" stroke-width="1"/>
<line x1="610.80" y1="293.60" x2="610.80" y2="305.80" stroke="#151515" stroke-width="1.2"/>
<line x1="614.30" y1="293.60" x2="614.30" y2="305.80" stroke="#151515" stroke-width="1.4"/>
<line x1="618.80" y1="293.60" x2="618.80" y2="305.80" stroke="#151515" stroke-width="2.2"/>
<line x1="610.20" y1="294.20" x2="619.80" y2="294.20" stroke="#151515" stroke-width="1.2"/>
<line x1="629.80" y1="305.80" x2="629.80" y2="309.00" stroke="#333" stroke-width="1"/>
<text x="632.00" y="315.40" font-size="7.2" text-anchor="end" font-weight="bold" transform="rotate(-45 632.00 315.40)">4</text>
<line x1="629.80" y1="290.40" x2="629.80" y2="292.40" stroke="#444" stroke-width="1"/>
<line x1="627.40" y1="290.40" x2="632.20" y2="290.40" stroke="#333" stroke-width="1"/>
<line x1="625.60" y1="292.40" x2="625.60" y2="305.80" stroke="#151515" stroke-width="1.2"/>
<line x1="629.10" y1="292.40" x2="629.10" y2="305.80" stroke="#151515" stroke-width="1.4"/>
<line x1="633.60" y1="292.40" x2="633.60" y2="305.80" stroke="#151515" stroke-width="2.2"/>
<line x1="625.00" y1="293.00" x2="634.60" y2="293.00" stroke="#151515" stroke-width="1.2"/>
<text x="494.20" y="215.05" font-size="8.25">WT-MCF7</text>
<text x="562.60" y="215.25" font-size="8.25">PALBO-R-MCF7</text>
<text x="455.25" y="256.30" font-size="8" text-anchor="middle" transform="rotate(-90 455.25 256.30)">ESR1 mRNA Expression</text>
<text x="466.00" y="257.20" font-size="8" text-anchor="middle" transform="rotate(-90 466.00 257.20)">relative to DMSO in MCF7</text>
<text x="563.50" y="329.00" font-size="8.2" text-anchor="middle">[ZEN-3694], uM</text>
<text x="70.00" y="352.10" font-size="21.6">BCLXL</text>
<line x1="41.70" y1="369.30" x2="41.70" y2="465.20" stroke="#444" stroke-width="1"/>
<line x1="41.20" y1="465.20" x2="186.00" y2="465.20" stroke="#1a1a1a" stroke-width="1.2"/>
<line x1="38.70" y1="465.20" x2="41.70" y2="465.20" stroke="#333" stroke-width="1"/>
<text x="37.70" y="467.90" font-size="7.8" text-anchor="end">0.0</text>
<line x1="38.70" y1="446.08" x2="41.70" y2="446.08" stroke="#333" stroke-width="1"/>
<text x="37.70" y="448.78" font-size="7.8" text-anchor="end">0.5</text>
<line x1="38.70" y1="426.96" x2="41.70" y2="426.96" stroke="#333" stroke-width="1"/>
<text x="37.70" y="429.66" font-size="7.8" text-anchor="end">1.0</text>
<line x1="38.70" y1="407.84" x2="41.70" y2="407.84" stroke="#333" stroke-width="1"/>
<text x="37.70" y="410.54" font-size="7.8" text-anchor="end">1.5</text>
<line x1="38.70" y1="388.72" x2="41.70" y2="388.72" stroke="#333" stroke-width="1"/>
<text x="37.70" y="391.42" font-size="7.8" text-anchor="end">2.0</text>
<line x1="38.70" y1="369.60" x2="41.70" y2="369.60" stroke="#333" stroke-width="1"/>
<text x="37.70" y="372.30" font-size="7.8" text-anchor="end">2.5</text>
<line x1="49.40" y1="465.20" x2="49.40" y2="468.40" stroke="#333" stroke-width="1"/>
<text x="51.60" y="474.80" font-size="7.2" text-anchor="end" transform="rotate(-45 51.60 474.80)">0</text>
<line x1="49.40" y1="423.40" x2="49.40" y2="425.60" stroke="#444" stroke-width="1"/>
<line x1="47.00" y1="423.40" x2="51.80" y2="423.40" stroke="#333" stroke-width="1"/>
<rect x="45.20" y="426.20" width="8.40" height="39.00" fill="#fff" stroke="#151515" stroke-width="1.2"/>
<line x1="63.80" y1="465.20" x2="63.80" y2="468.40" stroke="#333" stroke-width="1"/>
<text x="66.00" y="474.80" font-size="7.2" text-anchor="end" transform="rotate(-45 66.00 474.80)">0.5</text>
<line x1="63.80" y1="434.40" x2="63.80" y2="438.40" stroke="#444" stroke-width="1"/>
<line x1="61.40" y1="434.40" x2="66.20" y2="434.40" stroke="#333" stroke-width="1"/>
<rect x="59.60" y="439.00" width="8.40" height="26.20" fill="#fff" stroke="#151515" stroke-width="1.2"/>
<line x1="77.70" y1="465.20" x2="77.70" y2="468.40" stroke="#333" stroke-width="1"/>
<text x="79.90" y="474.80" font-size="7.2" text-anchor="end" transform="rotate(-45 79.90 474.80)">1</text>
<line x1="77.70" y1="440.00" x2="77.70" y2="443.40" stroke="#444" stroke-width="1"/>
<line x1="75.30" y1="440.00" x2="80.10" y2="440.00" stroke="#333" stroke-width="1"/>
<rect x="73.50" y="444.00" width="8.40" height="21.20" fill="#fff" stroke="#151515" stroke-width="1.2"/>
<line x1="92.00" y1="465.20" x2="92.00" y2="468.40" stroke="#333" stroke-width="1"/>
<text x="94.20" y="474.80" font-size="7.2" text-anchor="end" transform="rotate(-45 94.20 474.80)">2</text>
<rect x="87.80" y="450.00" width="8.40" height="15.20" fill="#fff" stroke="#151515" stroke-width="1.2"/>
<line x1="106.10" y1="465.20" x2="106.10" y2="468.40" stroke="#333" stroke-width="1"/>
<text x="108.30" y="474.80" font-size="7.2" text-anchor="end" transform="rotate(-45 108.30 474.80)">4</text>
<rect x="101.90" y="456.00" width="8.40" height="9.20" fill="#fff" stroke="#151515" stroke-width="1.2"/>
<line x1="121.50" y1="465.20" x2="121.50" y2="468.40" stroke="#333" stroke-width="1"/>
<text x="123.70" y="474.80" font-size="7.2" text-anchor="end" transform="rotate(-45 123.70 474.80)">0</text>
<line x1="121.50" y1="375.50" x2="121.50" y2="389.00" stroke="#444" stroke-width="1"/>
<line x1="119.10" y1="375.50" x2="123.90" y2="375.50" stroke="#333" stroke-width="1"/>
<line x1="117.30" y1="389.00" x2="117.30" y2="465.20" stroke="#151515" stroke-width="1.2"/>
<line x1="120.80" y1="389.00" x2="120.80" y2="465.20" stroke="#151515" stroke-width="1.4"/>
<line x1="125.30" y1="389.00" x2="125.30" y2="465.20" stroke="#151515" stroke-width="2.2"/>
<line x1="116.70" y1="389.60" x2="126.30" y2="389.60" stroke="#151515" stroke-width="1.2"/>
<line x1="135.50" y1="465.20" x2="135.50" y2="468.40" stroke="#333" stroke-width="1"/>
<text x="137.70" y="474.80" font-size="7.2" text-anchor="end" transform="rotate(-45 137.70 474.80)">0.5</text>
<line x1="135.50" y1="410.50" x2="135.50" y2="412.20" stroke="#444" stroke-width="1"/>
<line x1="133.10" y1="410.50" x2="137.90" y2="410.50" stroke="#333" stroke-width="1"/>
<line x1="131.30" y1="412.20" x2="131.30" y2="465.20" stroke="#151515" stroke-width="1.2"/>
<line x1="134.80" y1="412.20" x2="134.80" y2="465.20" stroke="#151515" stroke-width="1.4"/>
<line x1="139.30" y1="412.20" x2="139.30" y2="465.20" stroke="#151515" stroke-width="2.2"/>
<line x1="130.70" y1="412.80" x2="140.30" y2="412.80" stroke="#151515" stroke-width="1.2"/>
<line x1="149.70" y1="465.20" x2="149.70" y2="468.40" stroke="#333" stroke-width="1"/>
<text x="151.90" y="474.80" font-size="7.2" text-anchor="end" transform="rotate(-45 151.90 474.80)">1</text>
<line x1="149.70" y1="418.40" x2="149.70" y2="424.40" stroke="#444" stroke-width="1"/>
<line x1="147.30" y1="418.40" x2="152.10" y2="418.40" stroke="#333" stroke-width="1"/>
<line x1="145.50" y1="424.40" x2="145.50" y2="465.20" stroke="#151515" stroke-width="1.2"/>
<line x1="149.00" y1="424.40" x2="149.00" y2="465.20" stroke="#151515" stroke-width="1.4"/>
<line x1="153.50" y1="424.40" x2="153.50" y2="465.20" stroke="#151515" stroke-width="2.2"/>
<line x1="144.90" y1="425.00" x2="154.50" y2="425.00" stroke="#151515" stroke-width="1.2"/>
<line x1="163.90" y1="465.20" x2="163.90" y2="468.40" stroke="#333" stroke-width="1"/>
<text x="166.10" y="474.80" font-size="7.2" text-anchor="end" transform="rotate(-45 166.10 474.80)">2</text>
<line x1="163.90" y1="436.40" x2="163.90" y2="439.40" stroke="#444" stroke-width="1"/>
<line x1="161.50" y1="436.40" x2="166.30" y2="436.40" stroke="#333" stroke-width="1"/>
<line x1="159.70" y1="439.40" x2="159.70" y2="465.20" stroke="#151515" stroke-width="1.2"/>
<line x1="163.20" y1="439.40" x2="163.20" y2="465.20" stroke="#151515" stroke-width="1.4"/>
<line x1="167.70" y1="439.40" x2="167.70" y2="465.20" stroke="#151515" stroke-width="2.2"/>
<line x1="159.10" y1="440.00" x2="168.70" y2="440.00" stroke="#151515" stroke-width="1.2"/>
<line x1="178.10" y1="465.20" x2="178.10" y2="468.40" stroke="#333" stroke-width="1"/>
<text x="180.30" y="474.80" font-size="7.2" text-anchor="end" transform="rotate(-45 180.30 474.80)">4</text>
<line x1="178.10" y1="443.00" x2="178.10" y2="445.40" stroke="#444" stroke-width="1"/>
<line x1="175.70" y1="443.00" x2="180.50" y2="443.00" stroke="#333" stroke-width="1"/>
<line x1="173.90" y1="445.40" x2="173.90" y2="465.20" stroke="#151515" stroke-width="1.2"/>
<line x1="177.40" y1="445.40" x2="177.40" y2="465.20" stroke="#151515" stroke-width="1.4"/>
<line x1="181.90" y1="445.40" x2="181.90" y2="465.20" stroke="#151515" stroke-width="2.2"/>
<line x1="173.30" y1="446.00" x2="182.90" y2="446.00" stroke="#151515" stroke-width="1.2"/>
<text x="48.20" y="373.00" font-size="8.25">WT-MCF7</text>
<text x="114.60" y="372.90" font-size="8.25">PALBO-R-MCF7</text>
<text x="10.25" y="417.30" font-size="8" text-anchor="middle" transform="rotate(-90 10.25 417.30)">BCLXL mRNA Expression</text>
<text x="20.90" y="418.20" font-size="8" text-anchor="middle" transform="rotate(-90 20.90 418.20)">relative to DMSO in MCF7</text>
<text x="114.10" y="488.30" font-size="8.2" text-anchor="middle">[ZEN-3694], uM</text>
<text x="294.80" y="351.90" font-size="21.6">BCL2</text>
<line x1="262.50" y1="366.20" x2="262.50" y2="465.40" stroke="#444" stroke-width="1"/>
<line x1="262.00" y1="465.40" x2="411.60" y2="465.40" stroke="#1a1a1a" stroke-width="1.2"/>
<line x1="259.50" y1="465.40" x2="262.50" y2="465.40" stroke="#333" stroke-width="1"/>
<text x="258.50" y="468.10" font-size="7.8" text-anchor="end">0.0</text>
<line x1="259.50" y1="432.43" x2="262.50" y2="432.43" stroke="#333" stroke-width="1"/>
<text x="258.50" y="435.13" font-size="7.8" text-anchor="end">0.5</text>
<line x1="259.50" y1="399.47" x2="262.50" y2="399.47" stroke="#333" stroke-width="1"/>
<text x="258.50" y="402.17" font-size="7.8" text-anchor="end">1.0</text>
<line x1="259.50" y1="366.50" x2="262.50" y2="366.50" stroke="#333" stroke-width="1"/>
<text x="258.50" y="369.20" font-size="7.8" text-anchor="end">1.5</text>
<line x1="270.20" y1="465.40" x2="270.20" y2="468.60" stroke="#333" stroke-width="1"/>
<text x="272.40" y="475.00" font-size="7.2" text-anchor="end" transform="rotate(-45 272.40 475.00)">0</text>
<line x1="270.20" y1="394.40" x2="270.20" y2="400.40" stroke="#444" stroke-width="1"/>
<line x1="267.80" y1="394.40" x2="272.60" y2="394.40" stroke="#333" stroke-width="1"/>
<rect x="266.00" y="401.00" width="8.40" height="64.40" fill="#fff" stroke="#151515" stroke-width="1.2"/>
<line x1="284.90" y1="465.40" x2="284.90" y2="468.60" stroke="#333" stroke-width="1"/>
<text x="287.10" y="475.00" font-size="7.2" text-anchor="end" transform="rotate(-45 287.10 475.00)">0.5</text>
<line x1="284.90" y1="389.40" x2="284.90" y2="401.00" stroke="#444" stroke-width="1"/>
<line x1="282.50" y1="389.40" x2="287.30" y2="389.40" stroke="#333" stroke-width="1"/>
<rect x="280.70" y="401.60" width="8.40" height="63.80" fill="#fff" stroke="#151515" stroke-width="1.2"/>
<line x1="299.70" y1="465.40" x2="299.70" y2="468.60" stroke="#333" stroke-width="1"/>
<text x="301.90" y="475.00" font-size="7.2" text-anchor="end" transform="rotate(-45 301.90 475.00)">1</text>
<line x1="299.70" y1="414.40" x2="299.70" y2="417.00" stroke="#444" stroke-width="1"/>
<line x1="297.30" y1="414.40" x2="302.10" y2="414.40" stroke="#333" stroke-width="1"/>
<rect x="295.50" y="417.60" width="8.40" height="47.80" fill="#fff" stroke="#151515" stroke-width="1.2"/>
<line x1="314.30" y1="465.40" x2="314.30" y2="468.60" stroke="#333" stroke-width="1"/>
<text x="316.50" y="475.00" font-size="7.2" text-anchor="end" transform="rotate(-45 316.50 475.00)">2</text>
<line x1="314.30" y1="430.00" x2="314.30" y2="436.60" stroke="#444" stroke-width="1"/>
<line x1="311.90" y1="430.00" x2="316.70" y2="430.00" stroke="#333" stroke-width="1"/>
<rect x="310.10" y="437.20" width="8.40" height="28.20" fill="#fff" stroke="#151515" stroke-width="1.2"/>
<line x1="329.00" y1="465.40" x2="329.00" y2="468.60" stroke="#333" stroke-width="1"/>
<text x="331.20" y="475.00" font-size="7.2" text-anchor="end" transform="rotate(-45 331.20 475.00)">4</text>
<line x1="329.00" y1="445.40" x2="329.00" y2="449.50" stroke="#444" stroke-width="1"/>
<line x1="326.60" y1="445.40" x2="331.40" y2="445.40" stroke="#333" stroke-width="1"/>
<rect x="324.80" y="450.10" width="8.40" height="15.30" fill="#fff" stroke="#151515" stroke-width="1.2"/>
<line x1="344.90" y1="465.40" x2="344.90" y2="468.60" stroke="#333" stroke-width="1"/>
<text x="347.10" y="475.00" font-size="7.2" text-anchor="end" transform="rotate(-45 347.10 475.00)">0</text>
<line x1="344.90" y1="434.40" x2="344.90" y2="439.80" stroke="#444" stroke-width="1"/>
<line x1="342.50" y1="434.40" x2="347.30" y2="434.40" stroke="#333" stroke-width="1"/>
<line x1="340.70" y1="439.80" x2="340.70" y2="465.40" stroke="#151515" stroke-width="1.2"/>
<line x1="344.20" y1="439.80" x2="344.20" y2="465.40" stroke="#151515" stroke-width="1.4"/>
<line x1="348.70" y1="439.80" x2="348.70" y2="465.40" stroke="#151515" stroke-width="2.2"/>
<line x1="340.10" y1="440.40" x2="349.70" y2="440.40" stroke="#151515" stroke-width="1.2"/>
<line x1="359.20" y1="465.40" x2="359.20" y2="468.60" stroke="#333" stroke-width="1"/>
<text x="361.40" y="475.00" font-size="7.2" text-anchor="end" transform="rotate(-45 361.40 475.00)">0.5</text>
<line x1="359.20" y1="454.20" x2="359.20" y2="456.80" stroke="#444" stroke-width="1"/>
<line x1="356.80" y1="454.20" x2="361.60" y2="454.20" stroke="#333" stroke-width="1"/>
<line x1="355.00" y1="456.80" x2="355.00" y2="465.40" stroke="#151515" stroke-width="1.2"/>
<line x1="358.50" y1="456.80" x2="358.50" y2="465.40" stroke="#151515" stroke-width="1.4"/>
<line x1="363.00" y1="456.80" x2="363.00" y2="465.40" stroke="#151515" stroke-width="2.2"/>
<line x1="354.40" y1="457.40" x2="364.00" y2="457.40" stroke="#151515" stroke-width="1.2"/>
<line x1="374.00" y1="465.40" x2="374.00" y2="468.60" stroke="#333" stroke-width="1"/>
<text x="376.20" y="475.00" font-size="7.2" text-anchor="end" transform="rotate(-45 376.20 475.00)">1</text>
<line x1="374.00" y1="457.60" x2="374.00" y2="459.40" stroke="#444" stroke-width="1"/>
<line x1="371.60" y1="457.60" x2="376.40" y2="457.60" stroke="#333" stroke-width="1"/>
<line x1="369.80" y1="459.40" x2="369.80" y2="465.40" stroke="#151515" stroke-width="1.2"/>
<line x1="373.30" y1="459.40" x2="373.30" y2="465.40" stroke="#151515" stroke-width="1.4"/>
<line x1="377.80" y1="459.40" x2="377.80" y2="465.40" stroke="#151515" stroke-width="2.2"/>
<line x1="369.20" y1="460.00" x2="378.80" y2="460.00" stroke="#151515" stroke-width="1.2"/>
<line x1="388.70" y1="465.40" x2="388.70" y2="468.60" stroke="#333" stroke-width="1"/>
<text x="390.90" y="475.00" font-size="7.2" text-anchor="end" transform="rotate(-45 390.90 475.00)">2</text>
<line x1="388.70" y1="461.60" x2="388.70" y2="463.00" stroke="#444" stroke-width="1"/>
<line x1="386.30" y1="461.60" x2="391.10" y2="461.60" stroke="#333" stroke-width="1"/>
<line x1="384.50" y1="463.00" x2="384.50" y2="465.40" stroke="#151515" stroke-width="1.2"/>
<line x1="388.00" y1="463.00" x2="388.00" y2="465.40" stroke="#151515" stroke-width="1.4"/>
<line x1="392.50" y1="463.00" x2="392.50" y2="465.40" stroke="#151515" stroke-width="2.2"/>
<line x1="383.90" y1="463.60" x2="393.50" y2="463.60" stroke="#151515" stroke-width="1.2"/>
<line x1="403.50" y1="465.40" x2="403.50" y2="468.60" stroke="#333" stroke-width="1"/>
<text x="405.70" y="475.00" font-size="7.2" text-anchor="end" transform="rotate(-45 405.70 475.00)">4</text>
<line x1="403.50" y1="461.00" x2="403.50" y2="462.00" stroke="#444" stroke-width="1"/>
<line x1="401.10" y1="461.00" x2="405.90" y2="461.00" stroke="#333" stroke-width="1"/>
<line x1="399.30" y1="462.00" x2="399.30" y2="465.40" stroke="#151515" stroke-width="1.2"/>
<line x1="402.80" y1="462.00" x2="402.80" y2="465.40" stroke="#151515" stroke-width="1.4"/>
<line x1="407.30" y1="462.00" x2="407.30" y2="465.40" stroke="#151515" stroke-width="2.2"/>
<line x1="398.70" y1="462.60" x2="408.30" y2="462.60" stroke="#151515" stroke-width="1.2"/>
<text x="268.00" y="374.85" font-size="8.25">WT-MCF7</text>
<text x="336.10" y="374.90" font-size="8.25">PALBO-R-MCF7</text>
<text x="228.35" y="415.90" font-size="8" text-anchor="middle" transform="rotate(-90 228.35 415.90)">BCL2 mRNA Expression</text>
<text x="239.50" y="417.20" font-size="8" text-anchor="middle" transform="rotate(-90 239.50 417.20)">relative to DMSO in MCF7</text>
<text x="337.20" y="489.00" font-size="8.2" text-anchor="middle">[ZEN-3694], uM</text>
<text x="510.80" y="351.90" font-size="21.6">MYC</text>
<line x1="480.30" y1="366.50" x2="480.30" y2="412.40" stroke="#444" stroke-width="1"/>
<line x1="480.30" y1="419.40" x2="480.30" y2="465.40" stroke="#444" stroke-width="1"/>
<line x1="477.30" y1="412.40" x2="482.90" y2="412.40" stroke="#444" stroke-width="1"/>
<line x1="477.30" y1="419.40" x2="482.90" y2="419.40" stroke="#444" stroke-width="1"/>
<line x1="479.80" y1="465.40" x2="629.60" y2="465.40" stroke="#1a1a1a" stroke-width="1.2"/>
<line x1="477.30" y1="465.40" x2="480.30" y2="465.40" stroke="#333" stroke-width="1"/>
<text x="476.30" y="468.10" font-size="7.8" text-anchor="end">0.0</text>
<line x1="477.30" y1="450.07" x2="480.30" y2="450.07" stroke="#333" stroke-width="1"/>
<text x="476.30" y="452.77" font-size="7.8" text-anchor="end">0.5</text>
<line x1="477.30" y1="434.73" x2="480.30" y2="434.73" stroke="#333" stroke-width="1"/>
<text x="476.30" y="437.43" font-size="7.8" text-anchor="end">1.0</text>
<line x1="477.30" y1="419.40" x2="480.30" y2="419.40" stroke="#333" stroke-width="1"/>
<text x="476.30" y="422.10" font-size="7.8" text-anchor="end">1.5</text>
<line x1="477.30" y1="412.40" x2="480.30" y2="412.40" stroke="#333" stroke-width="1"/>
<text x="476.30" y="415.10" font-size="7.8" text-anchor="end">2</text>
<line x1="477.30" y1="400.92" x2="480.30" y2="400.92" stroke="#333" stroke-width="1"/>
<text x="476.30" y="403.62" font-size="7.8" text-anchor="end">3</text>
<line x1="477.30" y1="389.45" x2="480.30" y2="389.45" stroke="#333" stroke-width="1"/>
<text x="476.30" y="392.15" font-size="7.8" text-anchor="end">4</text>
<line x1="477.30" y1="377.98" x2="480.30" y2="377.98" stroke="#333" stroke-width="1"/>
<text x="476.30" y="380.68" font-size="7.8" text-anchor="end">5</text>
<line x1="477.30" y1="366.50" x2="480.30" y2="366.50" stroke="#333" stroke-width="1"/>
<text x="476.30" y="369.20" font-size="7.8" text-anchor="end">6</text>
<line x1="488.00" y1="465.40" x2="488.00" y2="468.60" stroke="#333" stroke-width="1"/>
<text x="490.20" y="475.00" font-size="7.2" text-anchor="end" transform="rotate(-45 490.20 475.00)">0</text>
<line x1="488.00" y1="432.60" x2="488.00" y2="435.40" stroke="#444" stroke-width="1"/>
<line x1="485.60" y1="432.60" x2="490.40" y2="432.60" stroke="#333" stroke-width="1"/>
<rect x="483.80" y="436.00" width="8.40" height="29.40" fill="#fff" stroke="#151515" stroke-width="1.2"/>
<line x1="502.90" y1="465.40" x2="502.90" y2="468.60" stroke="#333" stroke-width="1"/>
<text x="505.10" y="475.00" font-size="7.2" text-anchor="end" transform="rotate(-45 505.10 475.00)">0.5</text>
<line x1="502.90" y1="443.60" x2="502.90" y2="446.00" stroke="#444" stroke-width="1"/>
<line x1="500.50" y1="443.60" x2="505.30" y2="443.60" stroke="#333" stroke-width="1"/>
<rect x="498.70" y="446.60" width="8.40" height="18.80" fill="#fff" stroke="#151515" stroke-width="1.2"/>
<line x1="517.50" y1="465.40" x2="517.50" y2="468.60" stroke="#333" stroke-width="1"/>
<text x="519.70" y="475.00" font-size="7.2" text-anchor="end" transform="rotate(-45 519.70 475.00)">1</text>
<line x1="517.50" y1="444.60" x2="517.50" y2="447.40" stroke="#444" stroke-width="1"/>
<line x1="515.10" y1="444.60" x2="519.90" y2="444.60" stroke="#333" stroke-width="1"/>
<rect x="513.30" y="448.00" width="8.40" height="17.40" fill="#fff" stroke="#151515" stroke-width="1.2"/>
<line x1="532.10" y1="465.40" x2="532.10" y2="468.60" stroke="#333" stroke-width="1"/>
<text x="534.30" y="475.00" font-size="7.2" text-anchor="end" transform="rotate(-45 534.30 475.00)">2</text>
<rect x="527.90" y="447.00" width="8.40" height="18.40" fill="#fff" stroke="#151515" stroke-width="1.2"/>
<line x1="546.90" y1="465.40" x2="546.90" y2="468.60" stroke="#333" stroke-width="1"/>
<text x="549.10" y="475.00" font-size="7.2" text-anchor="end" transform="rotate(-45 549.10 475.00)">4</text>
<line x1="546.90" y1="446.00" x2="546.90" y2="450.00" stroke="#444" stroke-width="1"/>
<line x1="544.50" y1="446.00" x2="549.30" y2="446.00" stroke="#333" stroke-width="1"/>
<rect x="542.70" y="450.60" width="8.40" height="14.80" fill="#fff" stroke="#151515" stroke-width="1.2"/>
<line x1="562.50" y1="465.40" x2="562.50" y2="468.60" stroke="#333" stroke-width="1"/>
<text x="564.70" y="475.00" font-size="7.2" text-anchor="end" transform="rotate(-45 564.70 475.00)">0</text>
<line x1="562.50" y1="369.40" x2="562.50" y2="377.20" stroke="#444" stroke-width="1"/>
<line x1="560.10" y1="369.40" x2="564.90" y2="369.40" stroke="#333" stroke-width="1"/>
<line x1="558.30" y1="377.20" x2="558.30" y2="412.10" stroke="#151515" stroke-width="1.2"/>
<line x1="561.80" y1="377.20" x2="561.80" y2="412.10" stroke="#151515" stroke-width="1.4"/>
<line x1="566.30" y1="377.20" x2="566.30" y2="412.10" stroke="#151515" stroke-width="2.2"/>
<line x1="557.70" y1="377.80" x2="567.30" y2="377.80" stroke="#151515" stroke-width="1.2"/>
<line x1="558.30" y1="419.70" x2="558.30" y2="465.40" stroke="#151515" stroke-width="1.2"/>
<line x1="561.80" y1="419.70" x2="561.80" y2="465.40" stroke="#151515" stroke-width="1.4"/>
<line x1="566.30" y1="419.70" x2="566.30" y2="465.40" stroke="#151515" stroke-width="2.2"/>
<line x1="577.00" y1="465.40" x2="577.00" y2="468.60" stroke="#333" stroke-width="1"/>
<text x="579.20" y="475.00" font-size="7.2" text-anchor="end" transform="rotate(-45 579.20 475.00)">0.5</text>
<line x1="577.00" y1="399.40" x2="577.00" y2="402.00" stroke="#444" stroke-width="1"/>
<line x1="574.60" y1="399.40" x2="579.40" y2="399.40" stroke="#333" stroke-width="1"/>
<line x1="572.80" y1="402.00" x2="572.80" y2="412.10" stroke="#151515" stroke-width="1.2"/>
<line x1="576.30" y1="402.00" x2="576.30" y2="412.10" stroke="#151515" stroke-width="1.4"/>
<line x1="580.80" y1="402.00" x2="580.80" y2="412.10" stroke="#151515" stroke-width="2.2"/>
<line x1="572.20" y1="402.60" x2="581.80" y2="402.60" stroke="#151515" stroke-width="1.2"/>
<line x1="572.80" y1="419.70" x2="572.80" y2="465.40" stroke="#151515" stroke-width="1.2"/>
<line x1="576.30" y1="419.70" x2="576.30" y2="465.40" stroke="#151515" stroke-width="1.4"/>
<line x1="580.80" y1="419.70" x2="580.80" y2="465.40" stroke="#151515" stroke-width="2.2"/>
<line x1="591.70" y1="465.40" x2="591.70" y2="468.60" stroke="#333" stroke-width="1"/>
<text x="593.90" y="475.00" font-size="7.2" text-anchor="end" transform="rotate(-45 593.90 475.00)">1</text>
<line x1="591.70" y1="396.60" x2="591.70" y2="398.00" stroke="#444" stroke-width="1"/>
<line x1="589.30" y1="396.60" x2="594.10" y2="396.60" stroke="#333" stroke-width="1"/>
<line x1="587.50" y1="398.00" x2="587.50" y2="412.10" stroke="#151515" stroke-width="1.2"/>
<line x1="591.00" y1="398.00" x2="591.00" y2="412.10" stroke="#151515" stroke-width="1.4"/>
<line x1="595.50" y1="398.00" x2="595.50" y2="412.10" stroke="#151515" stroke-width="2.2"/>
<line x1="586.90" y1="398.60" x2="596.50" y2="398.60" stroke="#151515" stroke-width="1.2"/>
<line x1="587.50" y1="419.70" x2="587.50" y2="465.40" stroke="#151515" stroke-width="1.2"/>
<line x1="591.00" y1="419.70" x2="591.00" y2="465.40" stroke="#151515" stroke-width="1.4"/>
<line x1="595.50" y1="419.70" x2="595.50" y2="465.40" stroke="#151515" stroke-width="2.2"/>
<line x1="606.30" y1="465.40" x2="606.30" y2="468.60" stroke="#333" stroke-width="1"/>
<text x="608.50" y="475.00" font-size="7.2" text-anchor="end" transform="rotate(-45 608.50 475.00)">2</text>
<line x1="606.30" y1="396.60" x2="606.30" y2="401.00" stroke="#444" stroke-width="1"/>
<line x1="603.90" y1="396.60" x2="608.70" y2="396.60" stroke="#333" stroke-width="1"/>
<line x1="602.10" y1="401.00" x2="602.10" y2="412.10" stroke="#151515" stroke-width="1.2"/>
<line x1="605.60" y1="401.00" x2="605.60" y2="412.10" stroke="#151515" stroke-width="1.4"/>
<line x1="610.10" y1="401.00" x2="610.10" y2="412.10" stroke="#151515" stroke-width="2.2"/>
<line x1="601.50" y1="401.60" x2="611.10" y2="401.60" stroke="#151515" stroke-width="1.2"/>
<line x1="602.10" y1="419.70" x2="602.10" y2="465.40" stroke="#151515" stroke-width="1.2"/>
<line x1="605.60" y1="419.70" x2="605.60" y2="465.40" stroke="#151515" stroke-width="1.4"/>
<line x1="610.10" y1="419.70" x2="610.10" y2="465.40" stroke="#151515" stroke-width="2.2"/>
<line x1="621.20" y1="465.40" x2="621.20" y2="468.60" stroke="#333" stroke-width="1"/>
<text x="623.40" y="475.00" font-size="7.2" text-anchor="end" transform="rotate(-45 623.40 475.00)">4</text>
<line x1="621.20" y1="404.40" x2="621.20" y2="408.60" stroke="#444" stroke-width="1"/>
<line x1="618.80" y1="404.40" x2="623.60" y2="404.40" stroke="#333" stroke-width="1"/>
<line x1="617.00" y1="408.60" x2="617.00" y2="412.10" stroke="#151515" stroke-width="1.2"/>
<line x1="620.50" y1="408.60" x2="620.50" y2="412.10" stroke="#151515" stroke-width="1.4"/>
<line x1="625.00" y1="408.60" x2="625.00" y2="412.10" stroke="#151515" stroke-width="2.2"/>
<line x1="616.40" y1="409.20" x2="626.00" y2="409.20" stroke="#151515" stroke-width="1.2"/>
<line x1="617.00" y1="419.70" x2="617.00" y2="465.40" stroke="#151515" stroke-width="1.2"/>
<line x1="620.50" y1="419.70" x2="620.50" y2="465.40" stroke="#151515" stroke-width="1.4"/>
<line x1="625.00" y1="419.70" x2="625.00" y2="465.40" stroke="#151515" stroke-width="2.2"/>
<text x="485.50" y="367.15" font-size="8.25">WT-MCF7</text>
<text x="554.10" y="367.25" font-size="8.25">PALBO-R-MCF7</text>
<text x="446.65" y="416.70" font-size="8" text-anchor="middle" transform="rotate(-90 446.65 416.70)">MYC mRNA Expression</text>
<text x="457.50" y="417.20" font-size="8" text-anchor="middle" transform="rotate(-90 457.50 417.20)">relative to DMSO in MCF7</text>
<text x="555.20" y="489.00" font-size="8.2" text-anchor="middle">[ZEN-3694], uM</text>
<text x="70.00" y="520.10" font-size="21.6">HEXIM1</text>
<line x1="47.40" y1="524.50" x2="47.40" y2="623.70" stroke="#444" stroke-width="1"/>
<line x1="46.90" y1="623.70" x2="197.00" y2="623.70" stroke="#1a1a1a" stroke-width="1.2"/>
<line x1="44.40" y1="623.70" x2="47.40" y2="623.70" stroke="#333" stroke-width="1"/>
<text x="43.40" y="626.40" font-size="7.8" text-anchor="end">0</text>
<line x1="44.40" y1="598.98" x2="47.40" y2="598.98" stroke="#333" stroke-width="1"/>
<text x="43.40" y="601.68" font-size="7.8" text-anchor="end">1</text>
<line x1="44.40" y1="574.25" x2="47.40" y2="574.25" stroke="#333" stroke-width="1"/>
<text x="43.40" y="576.95" font-size="7.8" text-anchor="end">2</text>
<line x1="44.40" y1="549.52" x2="47.40" y2="549.52" stroke="#333" stroke-width="1"/>
<text x="43.40" y="552.23" font-size="7.8" text-anchor="end">3</text>
<line x1="44.40" y1="524.80" x2="47.40" y2="524.80" stroke="#333" stroke-width="1"/>
<text x="43.40" y="527.50" font-size="7.8" text-anchor="end">4</text>
<line x1="55.00" y1="623.70" x2="55.00" y2="626.90" stroke="#333" stroke-width="1"/>
<text x="57.20" y="633.30" font-size="7.2" text-anchor="end" transform="rotate(-45 57.20 633.30)">0</text>
<line x1="55.00" y1="596.60" x2="55.00" y2="599.00" stroke="#444" stroke-width="1"/>
<line x1="52.60" y1="596.60" x2="57.40" y2="596.60" stroke="#333" stroke-width="1"/>
<rect x="50.80" y="599.60" width="8.40" height="24.10" fill="#fff" stroke="#151515" stroke-width="1.2"/>
<line x1="69.90" y1="623.70" x2="69.90" y2="626.90" stroke="#333" stroke-width="1"/>
<text x="72.10" y="633.30" font-size="7.2" text-anchor="end" transform="rotate(-45 72.10 633.30)">0.5</text>
<line x1="69.90" y1="581.00" x2="69.90" y2="586.40" stroke="#444" stroke-width="1"/>
<line x1="67.50" y1="581.00" x2="72.30" y2="581.00" stroke="#333" stroke-width="1"/>
<rect x="65.70" y="587.00" width="8.40" height="36.70" fill="#fff" stroke="#151515" stroke-width="1.2"/>
<line x1="84.50" y1="623.70" x2="84.50" y2="626.90" stroke="#333" stroke-width="1"/>
<text x="86.70" y="633.30" font-size="7.2" text-anchor="end" transform="rotate(-45 86.70 633.30)">1</text>
<line x1="84.50" y1="572.40" x2="84.50" y2="575.60" stroke="#444" stroke-width="1"/>
<line x1="82.10" y1="572.40" x2="86.90" y2="572.40" stroke="#333" stroke-width="1"/>
<rect x="80.30" y="576.20" width="8.40" height="47.50" fill="#fff" stroke="#151515" stroke-width="1.2"/>
<line x1="99.10" y1="623.70" x2="99.10" y2="626.90" stroke="#333" stroke-width="1"/>
<text x="101.30" y="633.30" font-size="7.2" text-anchor="end" transform="rotate(-45 101.30 633.30)">2</text>
<line x1="99.10" y1="547.40" x2="99.10" y2="553.60" stroke="#444" stroke-width="1"/>
<line x1="96.70" y1="547.40" x2="101.50" y2="547.40" stroke="#333" stroke-width="1"/>
<rect x="94.90" y="554.20" width="8.40" height="69.50" fill="#fff" stroke="#151515" stroke-width="1.2"/>
<line x1="113.90" y1="623.70" x2="113.90" y2="626.90" stroke="#333" stroke-width="1"/>
<text x="116.10" y="633.30" font-size="7.2" text-anchor="end" transform="rotate(-45 116.10 633.30)">4</text>
<line x1="113.90" y1="543.40" x2="113.90" y2="547.40" stroke="#444" stroke-width="1"/>
<line x1="111.50" y1="543.40" x2="116.30" y2="543.40" stroke="#333" stroke-width="1"/>
<rect x="109.70" y="548.00" width="8.40" height="75.70" fill="#fff" stroke="#151515" stroke-width="1.2"/>
<line x1="129.50" y1="623.70" x2="129.50" y2="626.90" stroke="#333" stroke-width="1"/>
<text x="131.70" y="633.30" font-size="7.2" text-anchor="end" transform="rotate(-45 131.70 633.30)">0</text>
<line x1="129.50" y1="607.50" x2="129.50" y2="609.50" stroke="#444" stroke-width="1"/>
<line x1="127.10" y1="607.50" x2="131.90" y2="607.50" stroke="#333" stroke-width="1"/>
<line x1="125.30" y1="609.50" x2="125.30" y2="623.70" stroke="#151515" stroke-width="1.2"/>
<line x1="128.80" y1="609.50" x2="128.80" y2="623.70" stroke="#151515" stroke-width="1.4"/>
<line x1="133.30" y1="609.50" x2="133.30" y2="623.70" stroke="#151515" stroke-width="2.2"/>
<line x1="124.70" y1="610.10" x2="134.30" y2="610.10" stroke="#151515" stroke-width="1.2"/>
<line x1="144.10" y1="623.70" x2="144.10" y2="626.90" stroke="#333" stroke-width="1"/>
<text x="146.30" y="633.30" font-size="7.2" text-anchor="end" transform="rotate(-45 146.30 633.30)">0.5</text>
<line x1="144.10" y1="600.40" x2="144.10" y2="602.00" stroke="#444" stroke-width="1"/>
<line x1="141.70" y1="600.40" x2="146.50" y2="600.40" stroke="#333" stroke-width="1"/>
<line x1="139.90" y1="602.00" x2="139.90" y2="623.70" stroke="#151515" stroke-width="1.2"/>
<line x1="143.40" y1="602.00" x2="143.40" y2="623.70" stroke="#151515" stroke-width="1.4"/>
<line x1="147.90" y1="602.00" x2="147.90" y2="623.70" stroke="#151515" stroke-width="2.2"/>
<line x1="139.30" y1="602.60" x2="148.90" y2="602.60" stroke="#151515" stroke-width="1.2"/>
<line x1="159.00" y1="623.70" x2="159.00" y2="626.90" stroke="#333" stroke-width="1"/>
<text x="161.20" y="633.30" font-size="7.2" text-anchor="end" transform="rotate(-45 161.20 633.30)">1</text>
<line x1="159.00" y1="591.40" x2="159.00" y2="595.40" stroke="#444" stroke-width="1"/>
<line x1="156.60" y1="591.40" x2="161.40" y2="591.40" stroke="#333" stroke-width="1"/>
<line x1="154.80" y1="595.40" x2="154.80" y2="623.70" stroke="#151515" stroke-width="1.2"/>
<line x1="158.30" y1="595.40" x2="158.30" y2="623.70" stroke="#151515" stroke-width="1.4"/>
<line x1="162.80" y1="595.40" x2="162.80" y2="623.70" stroke="#151515" stroke-width="2.2"/>
<line x1="154.20" y1="596.00" x2="163.80" y2="596.00" stroke="#151515" stroke-width="1.2"/>
<line x1="173.70" y1="623.70" x2="173.70" y2="626.90" stroke="#333" stroke-width="1"/>
<text x="175.90" y="633.30" font-size="7.2" text-anchor="end" transform="rotate(-45 175.90 633.30)">2</text>
<line x1="173.70" y1="586.00" x2="173.70" y2="592.00" stroke="#444" stroke-width="1"/>
<line x1="171.30" y1="586.00" x2="176.10" y2="586.00" stroke="#333" stroke-width="1"/>
<line x1="169.50" y1="592.00" x2="169.50" y2="623.70" stroke="#151515" stroke-width="1.2"/>
<line x1="173.00" y1="592.00" x2="173.00" y2="623.70" stroke="#151515" stroke-width="1.4"/>
<line x1="177.50" y1="592.00" x2="177.50" y2="623.70" stroke="#151515" stroke-width="2.2"/>
<line x1="168.90" y1="592.60" x2="178.50" y2="592.60" stroke="#151515" stroke-width="1.2"/>
<line x1="188.50" y1="623.70" x2="188.50" y2="626.90" stroke="#333" stroke-width="1"/>
<text x="190.70" y="633.30" font-size="7.2" text-anchor="end" transform="rotate(-45 190.70 633.30)">4</text>
<line x1="188.50" y1="587.40" x2="188.50" y2="592.40" stroke="#444" stroke-width="1"/>
<line x1="186.10" y1="587.40" x2="190.90" y2="587.40" stroke="#333" stroke-width="1"/>
<line x1="184.30" y1="592.40" x2="184.30" y2="623.70" stroke="#151515" stroke-width="1.2"/>
<line x1="187.80" y1="592.40" x2="187.80" y2="623.70" stroke="#151515" stroke-width="1.4"/>
<line x1="192.30" y1="592.40" x2="192.30" y2="623.70" stroke="#151515" stroke-width="2.2"/>
<line x1="183.70" y1="593.00" x2="193.30" y2="593.00" stroke="#151515" stroke-width="1.2"/>
<text x="64.70" y="533.00" font-size="8.25">WT-MCF7</text>
<text x="132.90" y="533.05" font-size="8.25">PALBO-R-MCF7</text>
<text x="12.95" y="574.00" font-size="8" text-anchor="middle" transform="rotate(-90 12.95 574.00)">HEXM1 mRNA Expression</text>
<text x="24.20" y="575.00" font-size="8" text-anchor="middle" transform="rotate(-90 24.20 575.00)">relative to DMSO in MCF7</text>
<text x="121.70" y="647.80" font-size="8.2" text-anchor="middle">[ZEN-3694], uM</text>
</svg>
</body></html>
